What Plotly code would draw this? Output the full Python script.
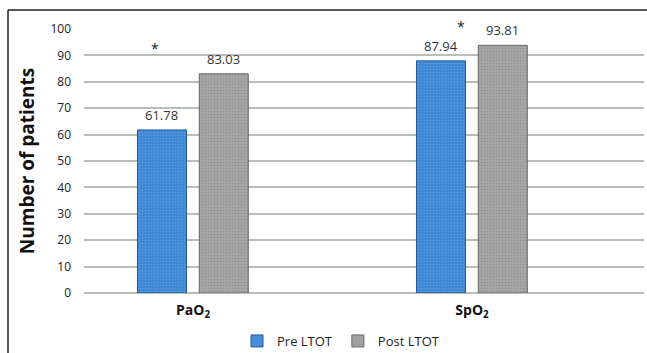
import plotly.graph_objects as go

categories = ["PaO<sub>2</sub>", "SpO<sub>2</sub>"]
pre_ltot = [61.78, 87.94]
post_ltot = [83.03, 93.81]
series_names = ["Pre LTOT", "Post LTOT"]
y_ticks = [0, 10, 20, 30, 40, 50, 60, 70, 80, 90, 100]

W, H = 647, 353
L, R, T, B = 84, 3, 29, 60
pw, ph = W - L - R, H - T - B

def px_x(px):
    return (px - L) / pw

def px_y(py):
    return (H - B - py) / ph

font_main = "Open Sans"
bar_w = 0.1756
offsets = [-0.199, 0.0225]
series_vals = [pre_ltot, post_ltot]
series_style = [
    dict(color="#3f88d4", line=dict(color="#24599c", width=1),
         pattern=dict(shape=".", size=3, solidity=0.25, fgcolor="#6fb0e8", fillmode="overlay")),
    dict(color="#a6a6a6", line=dict(color="#666666", width=1),
         pattern=dict(shape=".", size=3, solidity=0.25, fgcolor="#808080", fillmode="overlay")),
]

fig = go.Figure()
for name, vals, off, mk in zip(series_names, series_vals, offsets, series_style):
    fig.add_trace(go.Bar(x=list(range(len(categories))), y=vals, name=name,
                         width=bar_w, offset=off, marker=mk))
    for i, v in enumerate(vals):
        fig.add_annotation(x=i + off + bar_w / 2, y=v, xref="x", yref="y",
                           text=f"{v:.2f}", showarrow=False, yanchor="bottom", yshift=4,
                           font=dict(size=13, color="#333333", family=font_main))

# significance asterisks
fig.add_annotation(x=-0.136, y=px_y(37), xref="x", yref="paper", text="*", showarrow=False,
                   font=dict(size=14, color="#222222", family=font_main))
fig.add_annotation(x=0.959, y=px_y(15), xref="x", yref="paper", text="*", showarrow=False,
                   font=dict(size=14, color="#222222", family=font_main))

# frame lines (left and top)
fig.add_shape(type="line", xref="paper", yref="paper",
              x0=px_x(8), x1=px_x(8), y0=px_y(10), y1=px_y(353),
              line=dict(color="#222222", width=1.5))
fig.add_shape(type="line", xref="paper", yref="paper",
              x0=px_x(8), x1=px_x(647), y0=px_y(10), y1=px_y(10),
              line=dict(color="#222222", width=1.5))

fig.update_layout(
    width=W, height=H,
    margin=dict(l=L, r=R, t=T, b=B, autoexpand=False),
    paper_bgcolor="white", plot_bgcolor="white",
    barmode="overlay",
    showlegend=True,
    legend=dict(orientation="h", x=px_x(341), xanchor="center", y=px_y(341), yanchor="middle",
                font=dict(size=13, color="#222222", family=font_main),
                itemwidth=30, tracegroupgap=0),
    font=dict(family=font_main),
)
fig.update_xaxes(
    tickmode="array", tickvals=list(range(len(categories))),
    ticktext=["<b>" + c + "</b>" for c in categories],
    range=[-0.3907, 1.6165],
    tickfont=dict(size=14, color="#111111", family=font_main),
    showgrid=False, zeroline=False, showline=False, ticks="",
    ticklabelstandoff=7,
    automargin=False,
)
fig.update_yaxes(
    range=[0, 100], tickvals=y_ticks,
    tickfont=dict(size=12, color="#222222", family=font_main),
    showgrid=True, gridcolor="#b8beb8", gridwidth=2,
    zeroline=True, zerolinecolor="#b8beb8", zerolinewidth=2,
    showline=False, ticks="", ticklabelstandoff=12,
    automargin=False,
    title=dict(text="<b>Number of patients</b>", font=dict(size=19, color="#111111", family=font_main),
               standoff=10),
)

fig.write_html("out.html", config={"displayModeBar": False},
               post_script="document.body.style.margin='0px';document.body.style.overflow='hidden';")
